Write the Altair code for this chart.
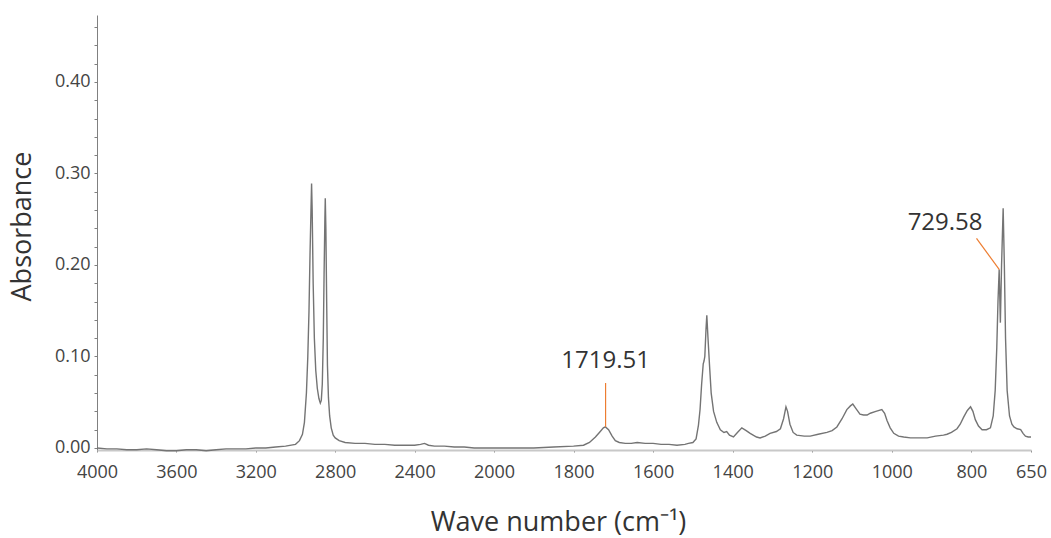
import altair as alt
import pandas as pd

# Spectrum: wavenumber (cm-1) and absorbance
wavenumber = [
    4000, 3950, 3900, 3850, 3800, 3750, 3700, 3650, 3600, 3550, 3500, 3450, 3400, 3350,
    3300, 3250, 3200, 3150, 3100, 3050, 3000, 2980, 2965, 2955, 2945, 2938, 2932, 2927,
    2922, 2919, 2916, 2911, 2905, 2898, 2890, 2882, 2875, 2870, 2865, 2860, 2856, 2852,
    2850, 2847, 2843, 2839, 2834, 2828, 2820, 2810, 2800, 2780, 2750, 2700, 2650, 2600,
    2550, 2500, 2450, 2400, 2370, 2350, 2330, 2300, 2250, 2200, 2150, 2100, 2050, 2000,
    1950, 1900, 1850, 1800, 1775, 1760, 1745, 1735, 1725, 1720, 1712, 1703, 1695, 1685,
    1670, 1655, 1640, 1620, 1600, 1580, 1560, 1540, 1520, 1511, 1500, 1492, 1486, 1482,
    1478, 1474, 1472, 1470, 1467, 1465, 1462, 1458, 1454, 1448, 1440, 1431, 1422, 1415,
    1408, 1398, 1388, 1377, 1366, 1356, 1340, 1331, 1318, 1306, 1290, 1280, 1272, 1266,
    1262, 1256, 1248, 1239, 1220, 1205, 1185, 1163, 1150, 1138, 1125, 1113, 1104, 1098,
    1090, 1080, 1071, 1062, 1054, 1040, 1025, 1018, 1012, 1004, 995, 983, 970, 953,
    930, 911, 890, 870, 861, 850, 836, 828, 819, 810, 802, 796, 790, 782,
    773, 762, 752, 745, 740, 736, 733, 730, 727, 724, 720, 717, 714, 710,
    704, 698, 693, 685, 676, 670, 664, 657, 650,
]
absorbance = [
    0.000, -0.001, -0.001, -0.002, -0.002, -0.001, -0.002, -0.003, -0.003, -0.002, -0.002, -0.003, -0.002, -0.001,
    -0.001, -0.001, 0.000, 0.000, 0.001, 0.002, 0.004, 0.008, 0.015, 0.028, 0.060, 0.100, 0.150, 0.210,
    0.260, 0.289, 0.260, 0.180, 0.120, 0.085, 0.065, 0.054, 0.049, 0.052, 0.070, 0.120, 0.190, 0.250,
    0.273, 0.240, 0.160, 0.090, 0.055, 0.035, 0.022, 0.014, 0.011, 0.008, 0.006, 0.005, 0.005, 0.004,
    0.004, 0.003, 0.003, 0.003, 0.004, 0.005, 0.003, 0.002, 0.002, 0.001, 0.001, 0.000, 0.000, 0.000,
    0.000, 0.000, 0.001, 0.002, 0.003, 0.006, 0.012, 0.017, 0.022, 0.023, 0.020, 0.013, 0.008, 0.006,
    0.005, 0.005, 0.006, 0.005, 0.005, 0.004, 0.004, 0.003, 0.004, 0.005, 0.006, 0.010, 0.025, 0.042,
    0.070, 0.092, 0.095, 0.100, 0.130, 0.145, 0.120, 0.089, 0.060, 0.040, 0.028, 0.020, 0.017, 0.018,
    0.014, 0.012, 0.017, 0.022, 0.019, 0.016, 0.012, 0.011, 0.013, 0.016, 0.018, 0.021, 0.032, 0.045,
    0.040, 0.026, 0.017, 0.014, 0.013, 0.013, 0.015, 0.017, 0.019, 0.023, 0.032, 0.042, 0.046, 0.048,
    0.043, 0.037, 0.036, 0.036, 0.038, 0.040, 0.042, 0.038, 0.030, 0.022, 0.016, 0.013, 0.012, 0.011,
    0.011, 0.011, 0.013, 0.014, 0.015, 0.017, 0.021, 0.026, 0.034, 0.041, 0.045, 0.040, 0.031, 0.024,
    0.020, 0.020, 0.022, 0.035, 0.063, 0.110, 0.160, 0.195, 0.137, 0.200, 0.262, 0.200, 0.120, 0.063,
    0.035, 0.026, 0.023, 0.021, 0.020, 0.016, 0.013, 0.012, 0.012,
]

# Peak annotations
peak_labels = ["1719.51", "729.58"]
label_x = [1719.51, 866.0]
label_y = [0.095, 0.246]
leader_x = [1719.51, 787.0]
leader_y = [0.071, 0.229]
leader_x2 = [1719.51, 729.58]
leader_y2 = [0.023, 0.195]

x_ticks = [4000, 3600, 3200, 2800, 2400, 2000, 1800, 1600, 1400, 1200, 1000, 800, 650]
y_ticks = [round(i * 0.02, 2) for i in range(24)]

spec = pd.DataFrame({"wn": wavenumber, "abs": absorbance})
ann = pd.DataFrame({"label": peak_labels, "lx": label_x, "ly": label_y,
                    "x1": leader_x, "y1": leader_y, "x2": leader_x2, "y2": leader_y2})

FONT = "Open Sans"
W, H = 934, 435

xscale = alt.Scale(domain=[4000, 2000, 650], range=[0, 397, 934], zero=False, nice=False)
yscale = alt.Scale(domain=[-0.0022, 0.4732], zero=False, nice=False)

xaxis = alt.Axis(
    values=x_ticks, tickCount=100, format="d", grid=False,
    domainColor="#c8c8c8", domainWidth=2, tickColor="#888888", tickSize=2,
    labelFont=FONT, labelFontSize=18, labelColor="#444444", labelPadding=11,
    labelFlush=False, labelOverlap=False,
    title="Wave number (cm\u207b\u00b9)", titleFont=FONT, titleFontSize=27,
    titleFontWeight="normal", titleColor="#333333",
    titleX=461, titleY=80, titleAlign="center", titleBaseline="alphabetic",
)
yaxis = alt.Axis(
    values=y_ticks, tickCount=100, grid=False,
    labelExpr="abs(datum.value*10 - round(datum.value*10)) < 0.001 ? format(datum.value, '.2f') : ''",
    domainColor="#808080", domainWidth=1, tickColor="#808080", tickSize=3,
    labelFont=FONT, labelFontSize=18, labelColor="#444444", labelPadding=4,
    labelOverlap=False, labelFlush=False,
    title="Absorbance", titleFont=FONT, titleFontSize=27, titleFontWeight="normal",
    titleColor="#333333", titleAngle=-90, titleX=-75, titleY=211,
    titleAlign="center", titleBaseline="middle",
)

line = alt.Chart(spec).mark_line(color="#747474", strokeWidth=1.4).encode(
    x=alt.X("wn:Q", scale=xscale, axis=xaxis),
    y=alt.Y("abs:Q", scale=yscale, axis=yaxis),
    order="wn:Q",
)

leaders = alt.Chart(ann).mark_rule(color="#ed7d31", strokeWidth=1.2).encode(
    x="x1:Q", y="y1:Q", x2="x2:Q", y2="y2:Q",
)

texts = alt.Chart(ann).mark_text(font=FONT, fontSize=24, color="#333333",
                                 align="center", baseline="middle").encode(
    x="lx:Q", y="ly:Q", text="label:N",
)

chart = alt.layer(line, leaders, texts).properties(
    width=W, height=H,
    autosize=alt.AutoSizeParams(type="none"),
    padding={"left": 97, "top": 15, "right": 20, "bottom": 88},
    background="white",
).configure_view(stroke=None)

chart.save("out.html", embed_options={"renderer": "svg", "actions": False})
